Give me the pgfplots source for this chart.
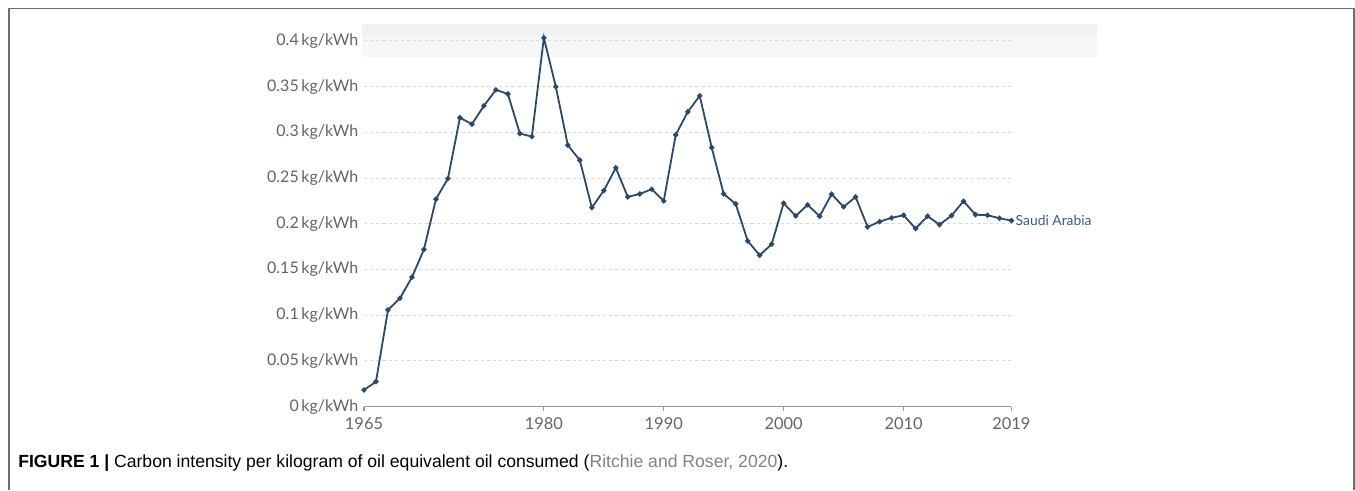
\documentclass[border=0pt]{standalone}
\usepackage{pgfplots}
\pgfplotsset{compat=1.18}
\usepackage{fontspec}
\setmainfont{Lato}
\newfontfamily\capfont{Liberation Sans}
\definecolor{linec}{RGB}{44,72,104}
\definecolor{labc}{RGB}{61,90,128}
\definecolor{tickc}{RGB}{100,100,100}
\definecolor{gridc}{RGB}{218,218,218}
\definecolor{axisc}{RGB}{150,150,150}
\definecolor{framec}{RGB}{110,110,110}
\definecolor{citec}{RGB}{130,130,130}
\pgfplotstableread{
year val
1965 0.0183
1966 0.0274
1967 0.1058
1968 0.1186
1969 0.1416
1970 0.172
1971 0.227
1972 0.2495
1973 0.316
1974 0.309
1975 0.329
1976 0.3465
1977 0.342
1978 0.2987
1979 0.2954
1980 0.4034
1981 0.3498
1982 0.286
1983 0.2696
1984 0.2177
1985 0.2363
1986 0.2612
1987 0.2294
1988 0.2327
1989 0.2378
1990 0.225
1991 0.2973
1992 0.3224
1993 0.340
1994 0.2834
1995 0.2327
1996 0.2218
1997 0.1813
1998 0.1656
1999 0.1777
2000 0.2225
2001 0.2086
2002 0.2207
2003 0.2083
2004 0.2324
2005 0.2185
2006 0.2294
2007 0.1966
2008 0.2024
2009 0.2065
2010 0.2094
2011 0.1948
2012 0.2083
2013 0.1991
2014 0.209
2015 0.2247
2016 0.210
2017 0.2094
2018 0.2061
2019 0.2035
}\saudi
\begin{document}
\begin{tikzpicture}
% page bounds (1355x490 px at 0.75pt/px)
\path[use as bounding box] (0,0) rectangle (1016.25pt,-367.5pt);
% frame (top, left, right)
\draw[framec, line width=1.4pt] (6.75pt,-367.5pt) -- (6.75pt,-6.4pt) -- (1015.4pt,-6.4pt) -- (1015.4pt,-367.5pt);
% faint band at top
\fill[black!5] (271.5pt,-18pt) rectangle (822.5pt,-27pt);
\fill[black!3] (271.5pt,-27pt) rectangle (822.5pt,-42.75pt);
\begin{axis}[
  at={(273pt,-305.0pt)}, anchor=origin,
  scale only axis, width=485.6pt, height=274.3pt,
  xmin=1965, xmax=2019, ymin=0, ymax=0.4,
  clip=false,
  axis x line*=bottom, axis y line*=left,
  y axis line style={draw=none},
  x axis line style={draw=axisc, line width=0.8pt},
  xtick={1965,1980,1990,2000,2010,2019},
  ytick={0,0.05,0.1,0.15,0.2,0.25,0.3,0.35,0.4},
  yticklabels={0\,kg/kWh,0.05\,kg/kWh,0.1\,kg/kWh,0.15\,kg/kWh,0.2\,kg/kWh,0.25\,kg/kWh,0.3\,kg/kWh,0.35\,kg/kWh,0.4\,kg/kWh},
  xticklabels={1965,1980,1990,2000,2010,2019},
  tick align=outside,
  major tick length=3.2pt,
  xtick style={draw=axisc, line width=0.8pt},
  ytick style={draw=none},
  ymajorgrids,
  grid style={draw=gridc, line width=0.7pt, dash pattern=on 2.4pt off 2.2pt},
  yticklabel style={font=\fontsize{12}{14}\selectfont, text=tickc, xshift=2.5pt},
  xticklabel style={font=\fontsize{12.3}{14}\selectfont, text=tickc, yshift=-1.5pt},
]
\addplot[linec, line width=1.35pt, mark=*, mark size=1.25pt, mark options={fill=linec, draw=linec}] table[x=year,y=val] {\saudi};
\node[anchor=west, text=labc, font=\fontsize{10.4}{12}\selectfont, inner sep=0pt, xshift=3pt] at (axis cs:2019,0.2035) {Saudi Arabia};
\end{axis}
\node[anchor=base west, inner sep=0pt, font=\capfont\fontsize{13.2}{15}\selectfont] at (13.5pt,-350.5pt) {\textbf{FIGURE 1 |} Carbon intensity per kilogram of oil equivalent oil consumed (\textcolor{citec}{Ritchie and Roser, 2020}).};
\end{tikzpicture}
\end{document}
